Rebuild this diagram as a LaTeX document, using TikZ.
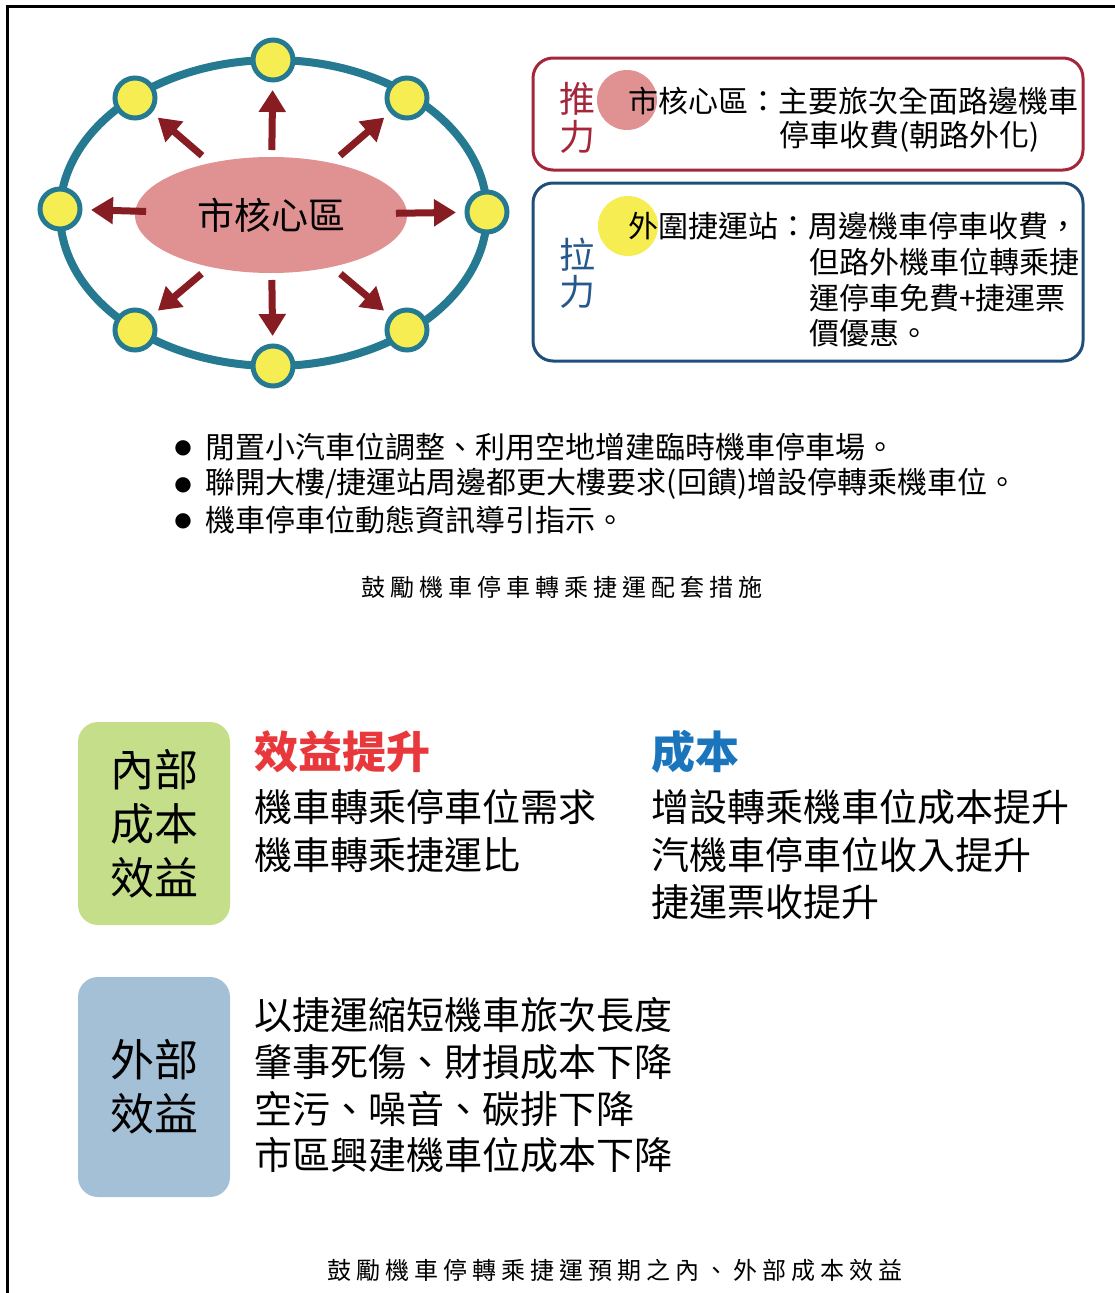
\documentclass[tikz,border=0pt]{standalone}
\usepackage{fontspec}
\setmainfont{Noto Sans CJK TC}
\newfontfamily\dejavu{DejaVu Sans}
\newfontfamily\capfont[LetterSpace=21]{Noto Sans CJK TC}
\usetikzlibrary{arrows.meta,shapes.geometric}
\definecolor{ringc}{RGB}{37,122,146}
\definecolor{yelc}{RGB}{245,237,82}
\definecolor{pinkc}{RGB}{224,145,145}
\definecolor{arrc}{RGB}{135,28,34}
\definecolor{pushc}{RGB}{163,38,58}
\definecolor{pullc}{RGB}{31,78,121}
\definecolor{pulltxt}{RGB}{38,88,140}
\definecolor{greenc}{RGB}{197,222,138}
\definecolor{bluec}{RGB}{164,192,214}
\definecolor{redh}{RGB}{232,56,60}
\definecolor{blueh}{RGB}{27,117,188}
\tikzset{
  stop/.style={circle, draw=ringc, line width=5pt, fill=yelc, minimum size=40pt, inner sep=0pt},
  arr/.style={draw=arrc, line width=7pt, -{Triangle[width=26pt,length=22pt]}},
  varr/.style={arr, shorten <=65pt, shorten >=30pt},
  harr/.style={arr, shorten <=125pt, shorten >=31pt},
  darr/.style={arr, shorten <=91pt, shorten >=30pt},
  txt/.style={anchor=west, inner sep=0pt},
  t30/.style={txt, font=\fontsize{30}{36}\selectfont},
  t38/.style={txt, font=\fontsize{38}{46}\selectfont},
  head/.style={txt, font=\fontsize{44}{50}\selectfont\bfseries},
  force/.style={inner sep=0pt, font=\fontsize{36}{38}\selectfont},
  tag/.style={rounded corners=20pt, minimum width=152pt, inner sep=0pt, align=center, font=\fontsize{44}{54}\selectfont},
  captxt/.style={inner sep=0pt, font=\capfont\fontsize{24}{28}\selectfont},
  bul/.style={inner sep=0pt, font=\dejavu\fontsize{20}{20}\selectfont}
}
\begin{document}
\begin{tikzpicture}[x=1pt,y=-1pt]
\useasboundingbox (0,0) rectangle (1115,1293);
% frame
\draw[line width=3.5pt] (1115,6.5) -- (7.5,6.5) -- (7.5,1293);

% ring and stations
\draw[ringc, line width=8pt] (273.5,213) ellipse [x radius=213.5pt, y radius=153pt];
\node[stop] (s1) at (273,60) {};
\node[stop] (s2) at (407,98) {};
\node[stop] (s3) at (487,212) {};
\node[stop] (s4) at (407,330) {};
\node[stop] (s5) at (273,366) {};
\node[stop] (s6) at (135,330) {};
\node[stop] (s7) at (60,209) {};
\node[stop] (s8) at (135,98) {};

% core
\node[ellipse, fill=pinkc, minimum width=272pt, minimum height=116pt, inner sep=0pt,
      font=\fontsize{37}{40}\selectfont] (core) at (271,215) {市核心區};

% arrows
\draw[varr] (core.center) -- (s1.center);
\draw[varr] (core.center) -- (s5.center);
\draw[harr] (core.center) -- (s3.center);
\draw[harr] (core.center) -- (s7.center);
\draw[darr] (core.center) -- (s2.center);
\draw[darr] (core.center) -- (s4.center);
\draw[darr] (core.center) -- (s6.center);
\draw[darr] (core.center) -- (s8.center);

% push box
\node[draw=pushc, line width=3pt, rounded corners=20pt, minimum width=550pt, minimum height=112pt, inner sep=0pt] (push) at (808,114) {};
\node[circle, fill=pinkc, minimum size=60pt, inner sep=0pt] (pc) at (627,100) {};
\node[force, text=pushc] (push1) at (577,99) {推};
\node[force, text=pushc] (push2) at (577,137) {力};
\node[t30] (p1) at (628,101) {市核心區：主要旅次全面路邊機車};
\node[t30] (p2) at (779,137) {停車收費(朝路外化)};

% pull box
\node[draw=pullc, line width=3pt, rounded corners=20pt, minimum width=550pt, minimum height=178pt, inner sep=0pt] (pull) at (808,272) {};
\node[circle, fill=yelc, minimum size=60pt, inner sep=0pt] (yc) at (628,226) {};
\node[force, text=pulltxt] (pull1) at (577,255) {拉};
\node[force, text=pulltxt] (pull2) at (577,292) {力};
\node[t30] (q1) at (628,226) {外圍捷運站：周邊機車停車收費，};
\node[t30] (q2) at (809,262) {但路外機車位轉乘捷};
\node[t30] (q3) at (809,298) {運停車免費+捷運票};
\node[t30] (q4) at (809,333) {價優惠。};

% bullets
\node[bul] (b1) at (183,448) {●};
\node[bul] (b2) at (183,485) {●};
\node[bul] (b3) at (183,521) {●};
\node[t30] (l1) at (205,447) {閒置小汽車位調整、利用空地增建臨時機車停車場。};
\node[t30] (l2) at (205,484) {聯開大樓/捷運站周邊都更大樓要求(回饋)增設停轉乘機車位。};
\node[t30] (l3) at (205,520) {機車停車位動態資訊導引指示。};

\node[captxt] (cap1) at (562,587) {鼓勵機車停車轉乘捷運配套措施};

% internal
\node[tag, fill=greenc, minimum height=203pt] (inner) at (154,823.5) {內部\\成本\\效益};
\node[head, text=redh] (h1) at (254,752) {效益提升};
\node[head, text=blueh] (h2) at (651,752) {成本};
\node[t38] (i1) at (254,807) {機車轉乘停車位需求};
\node[t38] (i2) at (254,855) {機車轉乘捷運比};
\node[t38] (c1) at (651,807) {增設轉乘機車位成本提升};
\node[t38] (c2) at (651,855) {汽機車停車位收入提升};
\node[t38] (c3) at (651,902) {捷運票收提升};

% external
\node[tag, fill=bluec, minimum height=220pt] (outer) at (154,1087) {外部\\效益};
\node[t38] (e1) at (254,1015) {以捷運縮短機車旅次長度};
\node[t38] (e2) at (254,1062) {肇事死傷、財損成本下降};
\node[t38] (e3) at (254,1109) {空污、噪音、碳排下降};
\node[t38] (e4) at (254,1155) {市區興建機車位成本下降};

\node[captxt] (cap2) at (615,1270) {鼓勵機車停轉乘捷運預期之內、外部成本效益};
\end{tikzpicture}
\end{document}
